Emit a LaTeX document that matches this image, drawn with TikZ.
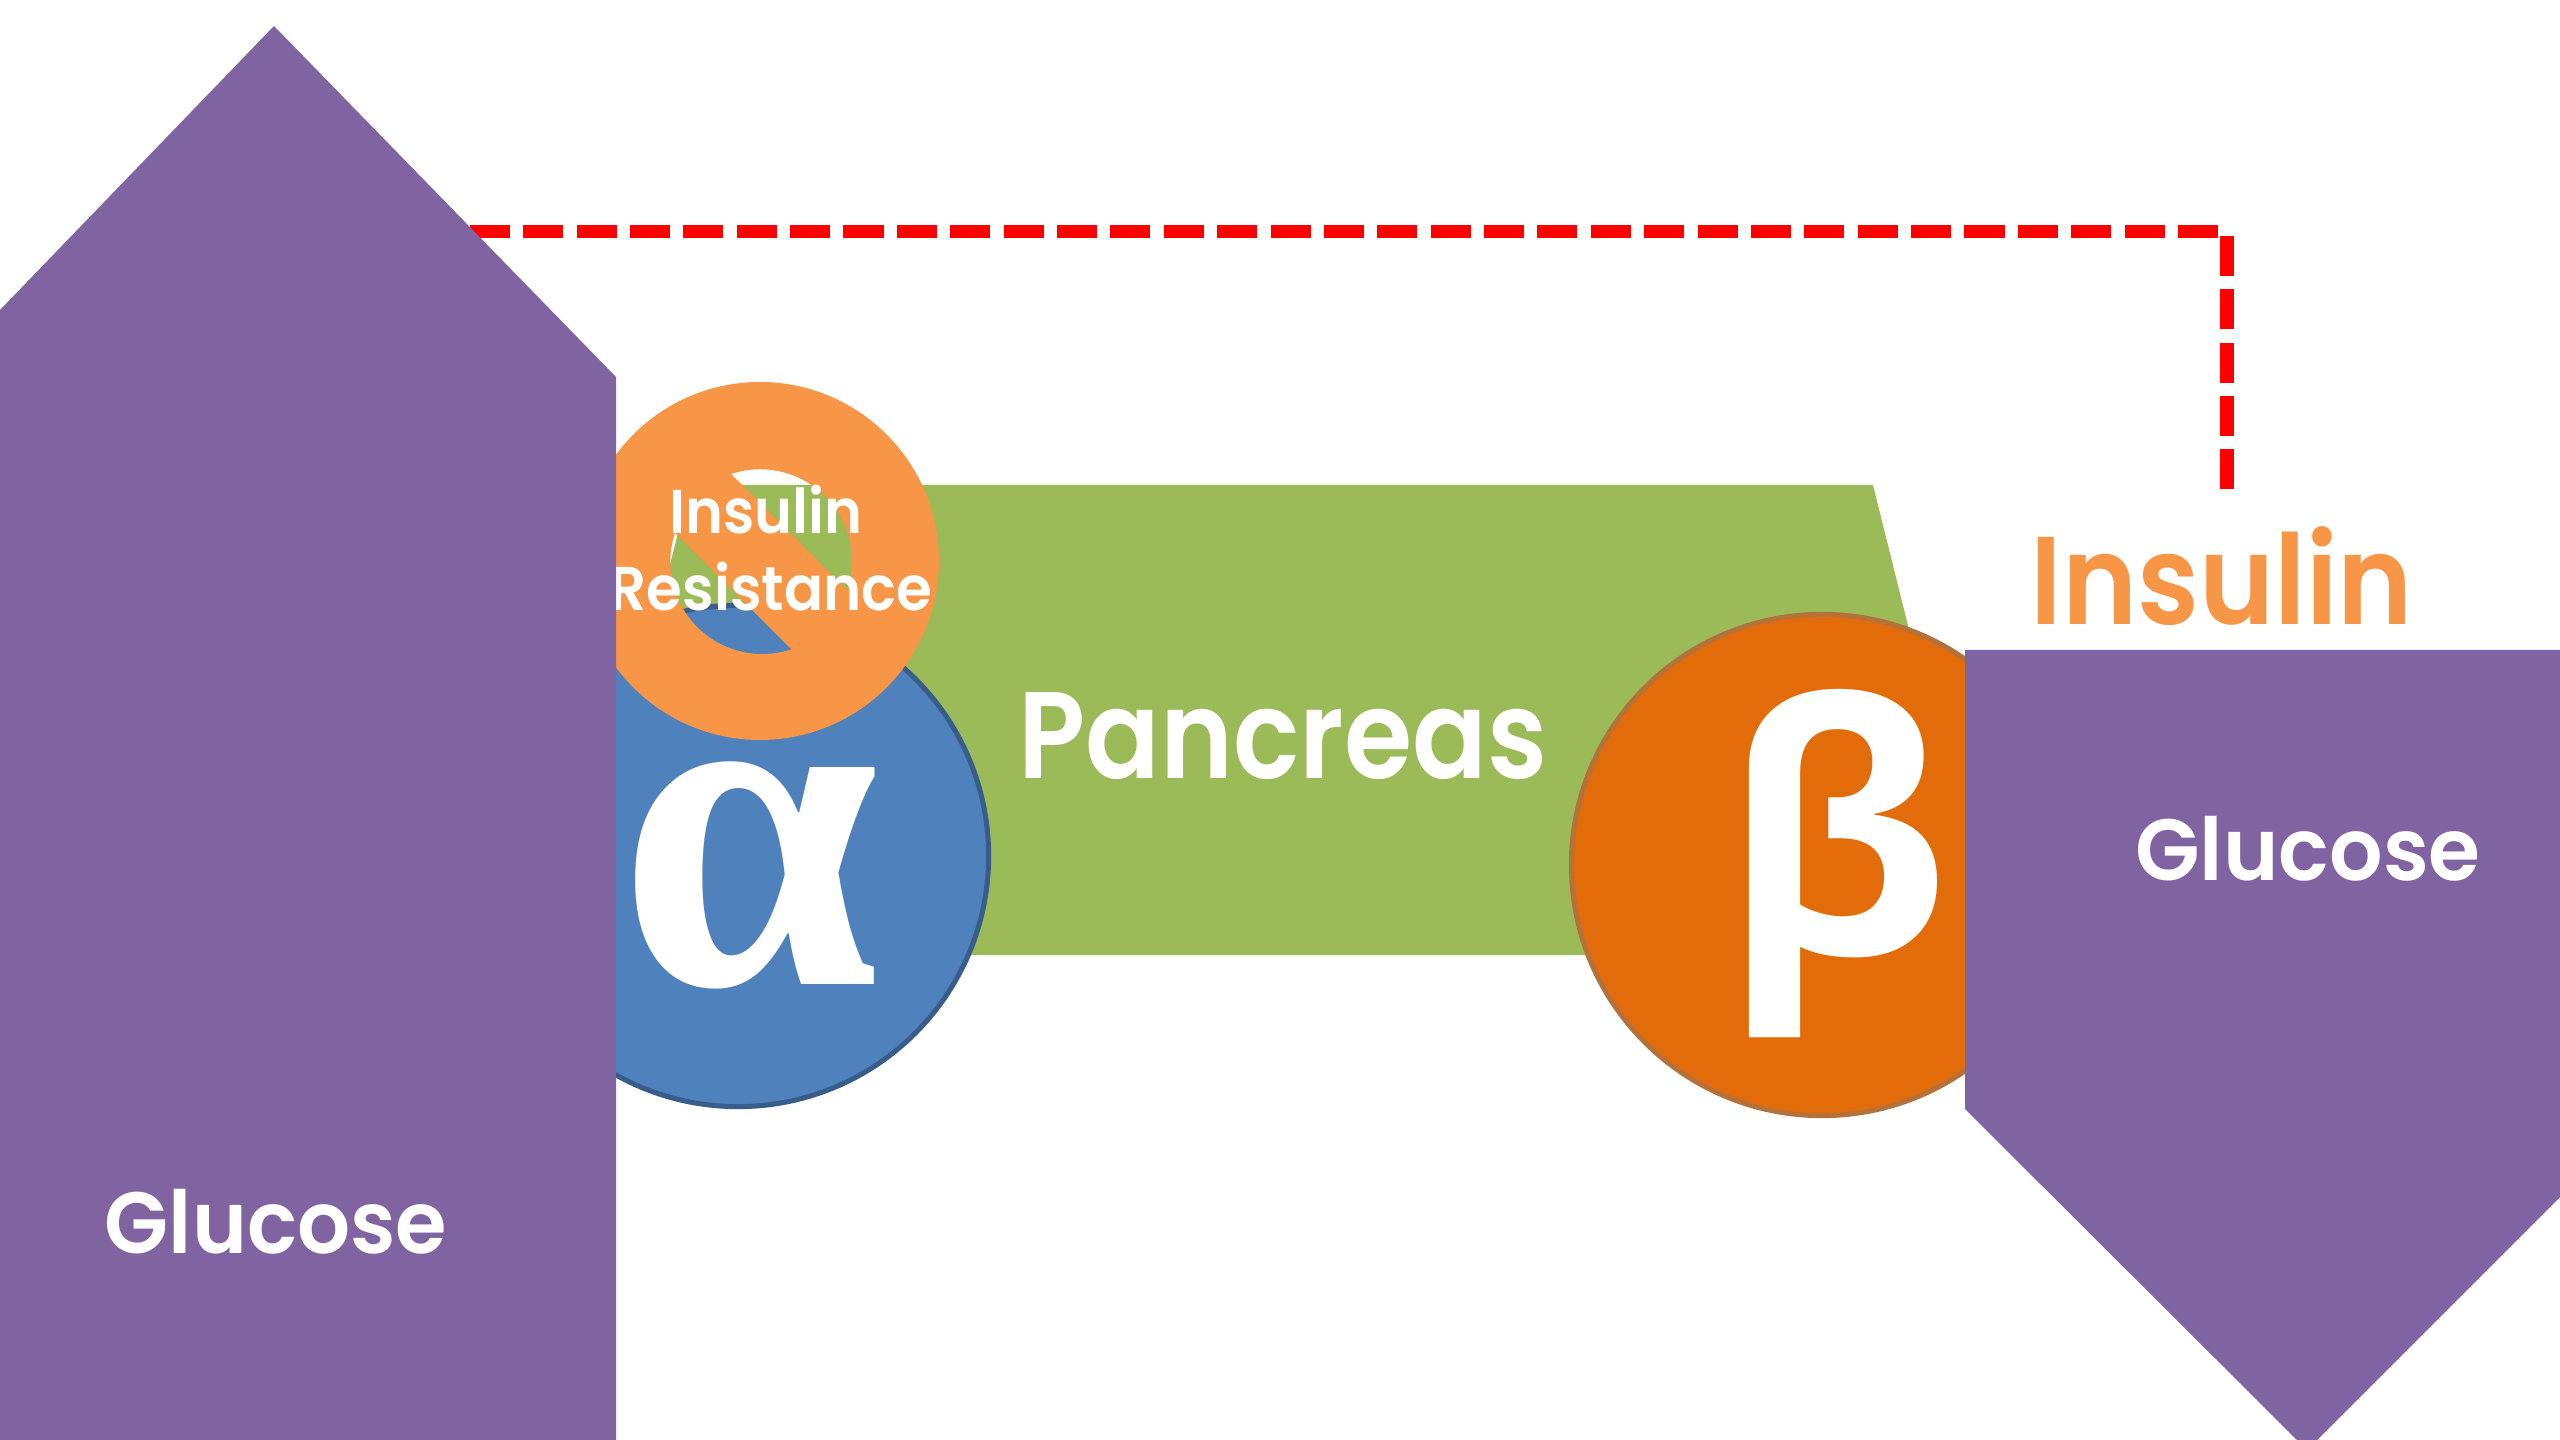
\documentclass[tikz,border=0pt]{standalone}
\usepackage{fontspec}
\usepackage{graphicx}
\newfontfamily\popfont{Poppins SemiBold}
\newfontfamily\greekfont{Open Sans}
\newfontfamily\alphafont{Liberation Serif}
\definecolor{arrowpurple}{HTML}{8064A2}
\definecolor{pancgreen}{HTML}{9BBB59}
\definecolor{alphablue}{HTML}{4F81BD}
\definecolor{alphaedge}{HTML}{385D8A}
\definecolor{betaorange}{HTML}{E36C0A}
\definecolor{betaedge}{HTML}{B5713A}
\definecolor{softorange}{HTML}{F79646}
\newcommand{\fittext}[3]{\resizebox*{#1cm}{#2cm}{#3}}
\tikzset{
  label text/.style={inner sep=0pt,outer sep=0pt,text=white,font=\popfont},
  greek text/.style={inner sep=0pt,outer sep=0pt,text=white,font=\greekfont\bfseries},
  alpha text/.style={inner sep=0pt,outer sep=0pt,text=white,font=\alphafont\bfseries},
  islet/.style={circle,inner sep=0pt,outer sep=0pt,minimum size=5.01cm,line width=0.05cm},
  feedback/.style={draw=red,line cap=butt},
  bigarrow/.style={fill=arrowpurple,draw=none}
}
\begin{document}
\begin{tikzpicture}[x=0.01cm,y=-0.01cm]
\useasboundingbox (0,0) rectangle (2560,1440);
\fill[white] (0,0) rectangle (2560,1440);
% pancreas
\fill[pancgreen] (690,485) -- (1873,485) -- (1990,955) -- (572,955) -- cycle;
% islets
\node[islet,fill=alphablue,draw=alphaedge] (alpha) at (738,856) {};
\node[islet,fill=betaorange,draw=betaedge] (beta) at (1822,865) {};
% feedback line
\coordinate (fbstart) at (460,231.5);
\coordinate (fbcorner) at (2218,231.5);
\coordinate (fbtop) at (2227,236);
\coordinate (fbend) at (2227,489);
\draw[feedback,line width=0.13cm,dash pattern=on 0.40cm off 0.1335cm] (fbcorner) -- (fbstart);
\draw[feedback,line width=0.14cm,dash pattern=on 0.40cm off 0.1333cm] (fbtop) -- (fbend);
% insulin resistance: prohibition sign
\fill[softorange,even odd rule]
  (760,561) circle[radius=179]
  (731,474) arc[start angle=-108.4,end angle=18.4,radius=92] -- cycle
  (675,533) arc[start angle=-161.6,end angle=-288.4,radius=92] -- cycle;
\node[label text] (resA) at (766,509.5) {\fittext{1.93}{0.49}{Insulin}};
\node[label text] (resB) at (771,586.5) {\fittext{3.22}{0.49}{Resistance}};
% greek letters
\node[alpha text] (alphaSym) at (749,875.5) {\fittext{2.61}{2.27}{α}};
\node[greek text] (betaSym) at (1836,864) {\fittext{2.27}{3.48}{β}};
\node[label text] (panc) at (1283,736) {\fittext{5.28}{0.87}{Pancreas}};
% glucose arrows
\fill[bigarrow] (274,26) -- (616,377) -- (616,1440) -- (0,1440) -- (0,310) -- cycle;
\fill[bigarrow] (1965,650) -- (2560,650) -- (2560,1197) -- (2307,1450) -- (1965,1109) -- cycle;
\node[label text] (glucL) at (276,1222) {\fittext{3.42}{0.65}{Glucose}};
\node[label text] (glucR) at (2308,849) {\fittext{3.45}{0.65}{Glucose}};
\node[label text,text=softorange] (insulin) at (2222,576.5) {\fittext{3.82}{0.99}{Insulin}};
\end{tikzpicture}
\end{document}
